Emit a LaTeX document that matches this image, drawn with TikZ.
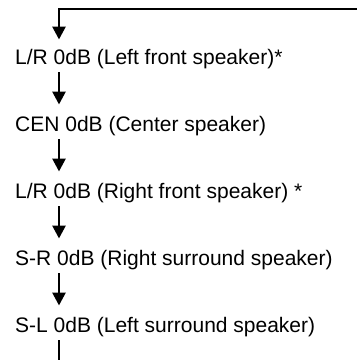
\documentclass[tikz,border=0pt]{standalone}
\usepackage{fontspec}
\setmainfont{Liberation Sans}
\usetikzlibrary{arrows.meta,positioning}

\begin{document}
\begin{tikzpicture}[
    x=1pt, y=-1pt,
    node distance=67pt,
    level/.style={anchor=west, inner sep=0pt, font=\fontsize{21}{25}\selectfont},
    link/.style={-{Triangle[length=13pt, width=13pt]}, line width=2.7pt, shorten <=3pt, shorten >=12pt}
]
\useasboundingbox (0,0) rectangle (357,360);
\node[level] (lf) at (15,59.5) {L/R 0dB (Left front speaker)*};
\node[level, below=of lf.west, anchor=west] (cen) {CEN 0dB (Center speaker)};
\node[level, below=of cen.west, anchor=west] (rf) {L/R 0dB (Right front speaker) *};
\node[level, below=of rf.west, anchor=west] (sr) {S-R 0dB (Right surround speaker)};
\node[level, below=of sr.west, anchor=west] (sl) {S-L 0dB (Left surround speaker)};
\coordinate (ret) at (357,9);
\coordinate (spine) at (59,9);
\coordinate (tail) at (59,360);
\draw[link, shorten <=0pt, shorten >=10pt] (ret) -- (spine) -- (spine |- lf.north);
\draw[link] (lf.south -| spine) -- (cen.north -| spine);
\draw[link] (cen.south -| spine) -- (rf.north -| spine);
\draw[link] (rf.south -| spine) -- (sr.north -| spine);
\draw[link] (sr.south -| spine) -- (sl.north -| spine);
\draw[line width=2.7pt, shorten <=3pt] (sl.south -| spine) -- (tail);
\end{tikzpicture}
\end{document}
